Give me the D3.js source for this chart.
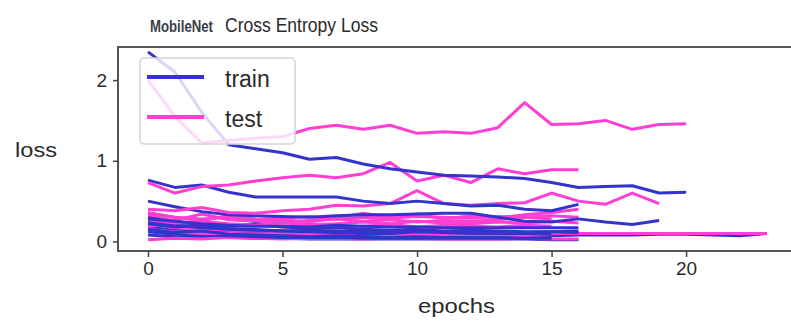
<!DOCTYPE html>
<html>
<head>
<meta charset="utf-8">
<script src="https://cdn.jsdelivr.net/npm/d3@7"></script>
<style>
  body { margin: 0; background: #fff; }
  svg { display: block; font-family: "Liberation Sans", Arial, sans-serif; }
</style>
</head>
<body>
<div id="chart"></div>
<script>
// loss per epoch for each run (blue = train, magenta = test)
const trainA = [2.35, 2.1, 1.6, 1.2, 1.15, 1.1, 1.02, 1.04, 0.96, 0.9, 0.86, 0.82, 0.81, 0.8, 0.78, 0.73, 0.67, 0.68, 0.69, 0.6, 0.61];
const testA  = [2.0, 1.55, 1.22, 1.25, 1.28, 1.3, 1.4, 1.44, 1.39, 1.44, 1.34, 1.36, 1.34, 1.41, 1.72, 1.45, 1.46, 1.5, 1.39, 1.45, 1.46];
const trainB = [0.76, 0.67, 0.7, 0.61, 0.55, 0.55, 0.55, 0.55, 0.5, 0.47, 0.5, 0.47, 0.44, 0.45, 0.4, 0.38, 0.46];
const testB  = [0.73, 0.6, 0.68, 0.7, 0.75, 0.79, 0.82, 0.79, 0.84, 0.98, 0.75, 0.82, 0.73, 0.9, 0.84, 0.89, 0.89];
const trainC = [0.5, 0.43, 0.37, 0.33, 0.32, 0.31, 0.3, 0.32, 0.33, 0.33, 0.34, 0.35, 0.35, 0.3, 0.25, 0.24, 0.28, 0.24, 0.21, 0.26];
const testC  = [0.4, 0.38, 0.42, 0.36, 0.35, 0.38, 0.4, 0.45, 0.44, 0.47, 0.63, 0.47, 0.45, 0.47, 0.48, 0.6, 0.5, 0.46, 0.6, 0.47];
const trainD = [0.18, 0.14, 0.12, 0.11, 0.1, 0.1, 0.09, 0.09, 0.08, 0.08, 0.08, 0.07, 0.07, 0.07, 0.07, 0.07, 0.08, 0.08, 0.08, 0.09, 0.09, 0.08, 0.07, 0.1];
const testD  = [0.22, 0.17, 0.15, 0.14, 0.13, 0.13, 0.12, 0.12, 0.12, 0.11, 0.11, 0.11, 0.1, 0.1, 0.1, 0.1, 0.1, 0.1, 0.1, 0.1, 0.1, 0.1, 0.1, 0.1];
const trainE = [0.28, 0.25, 0.22, 0.2, 0.19, 0.19, 0.18, 0.2, 0.19, 0.18, 0.18, 0.17, 0.17, 0.17, 0.17, 0.17, 0.17];
const testE  = [0.33, 0.3, 0.28, 0.3, 0.27, 0.29, 0.31, 0.28, 0.3, 0.29, 0.31, 0.3, 0.29, 0.31, 0.3, 0.32, 0.3];
const trainF = [0.12, 0.09, 0.08, 0.07, 0.06, 0.05, 0.05, 0.05, 0.04, 0.04, 0.04, 0.04, 0.04, 0.04, 0.04, 0.04];
const testF  = [0.15, 0.12, 0.1, 0.1, 0.09, 0.1, 0.09, 0.08, 0.1, 0.08, 0.09, 0.08, 0.08, 0.07, 0.07, 0.07];
const trainG = [0.25, 0.2, 0.17, 0.15, 0.14, 0.13, 0.12, 0.11, 0.1, 0.1, 0.12, 0.11, 0.1, 0.1, 0.1, 0.09];
const testG  = [0.3, 0.26, 0.34, 0.27, 0.25, 0.24, 0.26, 0.28, 0.25, 0.27, 0.24, 0.26, 0.25, 0.27, 0.3, 0.28];
const trainH = [0.08, 0.06, 0.05, 0.05, 0.04, 0.04, 0.03, 0.03, 0.03, 0.03, 0.03, 0.03, 0.03, 0.03, 0.03, 0.02, 0.02];
const testH  = [0.02, 0.04, 0.03, 0.05, 0.04, 0.03, 0.04, 0.04, 0.03, 0.04, 0.04, 0.03, 0.03, 0.03, 0.04, 0.03, 0.03];
const trainI = [0.22, 0.18, 0.2, 0.16, 0.15, 0.13, 0.14, 0.13, 0.12, 0.12, 0.13, 0.12, 0.12, 0.11, 0.11, 0.12, 0.13];
const testI  = [0.36, 0.3, 0.26, 0.32, 0.28, 0.27, 0.24, 0.29, 0.35, 0.3, 0.34, 0.28, 0.32, 0.29, 0.33, 0.36, 0.4];
const trainJ = [0.15, 0.11, 0.13, 0.09, 0.08, 0.07, 0.06, 0.07, 0.06, 0.05, 0.06, 0.05, 0.05, 0.05, 0.04, 0.05];
const testJ  = [0.19, 0.21, 0.17, 0.19, 0.2, 0.18, 0.2, 0.17, 0.19, 0.21, 0.18, 0.2, 0.19, 0.18, 0.2, 0.19];
const trainK = [0.3, 0.24, 0.21, 0.19, 0.22, 0.18, 0.16, 0.17, 0.15, 0.14, 0.15, 0.13, 0.14, 0.13, 0.12, 0.12, 0.11];
const testK  = [0.27, 0.23, 0.25, 0.22, 0.2, 0.23, 0.21, 0.22, 0.24, 0.22, 0.25, 0.23, 0.22, 0.24, 0.23, 0.25, 0.23];

const runs = [
  [trainD, testD], [trainH, testH], [trainF, testF], [trainJ, testJ], [trainG, testG],
  [trainK, testK], [trainI, testI], [trainE, testE], [trainC, testC], [trainB, testB], [trainA, testA]
];
const xTicks = [0, 5, 10, 15, 20];
const yTicks = [0, 1, 2];

const width = 791, height = 323;
const trainColor = '#3434cc', testColor = '#ff3ed4';

const svg = d3.select('#chart').append('svg')
  .attr('width', width)
  .attr('height', height);

// plot area (right edge runs past the window, as in the picture)
const plotLeft = 118, plotRight = 798, plotTop = 47, plotBottom = 251;

const x = d3.scaleLinear().domain([-1.115, 24.16]).range([plotLeft, plotRight]);
const y = d3.scaleLinear().domain([-0.118, 2.41]).range([plotBottom, plotTop]);

svg.append('clipPath').attr('id', 'plotClip')
  .append('rect')
  .attr('x', plotLeft).attr('y', plotTop)
  .attr('width', plotRight - plotLeft).attr('height', plotBottom - plotTop);

const line = d3.line()
  .x((d, i) => x(i))
  .y(d => y(d));

const plot = svg.append('g').attr('clip-path', 'url(#plotClip)');

runs.forEach(([tr, te]) => {
  plot.append('path')
    .datum(tr)
    .attr('d', line)
    .attr('fill', 'none')
    .attr('stroke', trainColor)
    .attr('stroke-width', 3)
    .attr('stroke-linejoin', 'round');
  plot.append('path')
    .datum(te)
    .attr('d', line)
    .attr('fill', 'none')
    .attr('stroke', testColor)
    .attr('stroke-width', 3)
    .attr('stroke-linejoin', 'round');
});

// frame
svg.append('rect')
  .attr('x', plotLeft).attr('y', plotTop)
  .attr('width', plotRight - plotLeft).attr('height', plotBottom - plotTop)
  .attr('fill', 'none')
  .attr('stroke', '#555')
  .attr('stroke-width', 2);

// axes
const xAxis = svg.append('g')
  .attr('transform', `translate(0,${plotBottom})`)
  .call(d3.axisBottom(x).tickValues(xTicks).tickSize(6).tickPadding(5).tickFormat(d3.format('d')));
const yAxis = svg.append('g')
  .attr('transform', `translate(${plotLeft},0)`)
  .call(d3.axisLeft(y).tickValues(yTicks).tickSize(5).tickPadding(6).tickFormat(d3.format('d')));

[xAxis, yAxis].forEach(ax => {
  ax.select('.domain').remove();
  ax.selectAll('.tick line').attr('stroke', '#444').attr('stroke-width', 1.5);
  ax.selectAll('.tick text')
    .attr('fill', '#2a2a2a')
    .style('font-size', '19px')
    .style('font-family', '"Liberation Sans", Arial, sans-serif');
});

// legend
const legend = svg.append('g');
legend.append('rect')
  .attr('x', 140).attr('y', 58)
  .attr('width', 155).attr('height', 86)
  .attr('rx', 4)
  .attr('fill', '#fff')
  .attr('fill-opacity', 0.8)
  .attr('stroke', '#d4d4d4')
  .attr('stroke-width', 1.5);

const legendItems = [
  { label: 'train', color: trainColor, y: 77 },
  { label: 'test', color: testColor, y: 117 }
];
legendItems.forEach(d => {
  legend.append('line')
    .attr('x1', 147).attr('x2', 204)
    .attr('y1', d.y).attr('y2', d.y)
    .attr('stroke', d.color)
    .attr('stroke-width', 4);
  legend.append('text')
    .attr('x', 225).attr('y', d.y + 10)
    .attr('fill', '#2a2a2a')
    .style('font-size', '23px')
    .text(d.label);
});

// title and axis labels
svg.append('text')
  .attr('x', 150).attr('y', 32)
  .attr('fill', '#3a3d4a')
  .attr('font-weight', 'bold')
  .attr('textLength', 63).attr('lengthAdjust', 'spacingAndGlyphs')
  .style('font-size', '17px')
  .text('MobileNet');
svg.append('text')
  .attr('x', 225).attr('y', 32)
  .attr('fill', '#2a2a2a')
  .attr('textLength', 153).attr('lengthAdjust', 'spacingAndGlyphs')
  .style('font-size', '21px')
  .text('Cross Entropy Loss');

svg.append('text')
  .attr('x', 15).attr('y', 157)
  .attr('fill', '#2a2a2a')
  .attr('textLength', 42).attr('lengthAdjust', 'spacingAndGlyphs')
  .style('font-size', '21px')
  .text('loss');
svg.append('text')
  .attr('x', 418).attr('y', 313)
  .attr('fill', '#2a2a2a')
  .attr('textLength', 77).attr('lengthAdjust', 'spacingAndGlyphs')
  .style('font-size', '21px')
  .text('epochs');
</script>
</body>
</html>
